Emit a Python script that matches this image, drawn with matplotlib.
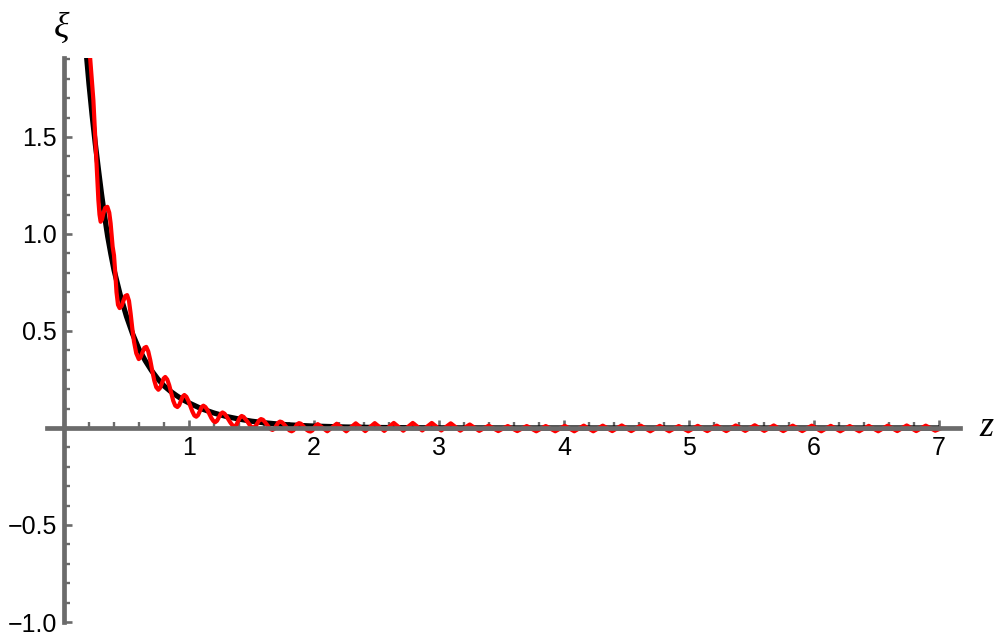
import numpy as np
import matplotlib
matplotlib.use('Agg')
import matplotlib.pyplot as plt
from matplotlib.ticker import MultipleLocator, FixedLocator

# black curve
z_black = [0.18, 0.20, 0.225, 0.25, 0.275, 0.30, 0.325, 0.35, 0.375, 0.40,
           0.45, 0.50, 0.55, 0.60, 0.65, 0.70, 0.75, 0.80, 0.85, 0.90,
           0.95, 1.00, 1.10, 1.20, 1.30, 1.40, 1.50, 1.60, 1.70, 1.80,
           1.90, 2.00, 2.25, 2.50, 2.75, 3.00, 3.50, 4.00, 5.00, 6.00, 7.00]
xi_black = [1.92, 1.774, 1.613, 1.467, 1.334, 1.206, 1.091, 0.986, 0.897, 0.815,
            0.685, 0.575, 0.483, 0.406, 0.347, 0.296, 0.253, 0.217, 0.190, 0.167,
            0.146, 0.129, 0.099, 0.077, 0.059, 0.046, 0.035, 0.027, 0.021, 0.016,
            0.0125, 0.0096, 0.005, 0.0025, 0.0013, 0.0007, 0.0002, 0.0, 0.0, 0.0, 0.0]

# red curve, head part (read point by point)
z_red_head = [0.210, 0.222, 0.235, 0.248, 0.261, 0.275, 0.284, 0.293, 0.304, 0.315,
              0.330, 0.347, 0.362, 0.373, 0.389, 0.400, 0.410, 0.420, 0.432, 0.445,
              0.460, 0.475, 0.490, 0.505, 0.520, 0.533, 0.546, 0.560, 0.578, 0.598,
              0.613, 0.628, 0.643, 0.658, 0.674, 0.690, 0.706, 0.722, 0.738, 0.755,
              0.769, 0.783, 0.797, 0.810, 0.826, 0.842, 0.858, 0.874, 0.890, 0.907,
              0.921, 0.935, 0.949, 0.963, 0.979, 0.995, 1.011, 1.027, 1.043, 1.058,
              1.072, 1.087, 1.101, 1.115, 1.131, 1.147, 1.163, 1.179, 1.195, 1.210,
              1.224, 1.239, 1.254, 1.268, 1.284, 1.300, 1.316, 1.332, 1.349, 1.365,
              1.379, 1.393, 1.407, 1.421, 1.437, 1.453, 1.469, 1.485, 1.500, 1.515,
              1.530, 1.545, 1.561, 1.576, 1.592, 1.607, 1.622, 1.638, 1.653, 1.668,
              1.683, 1.698, 1.713, 1.728, 1.743, 1.759, 1.774, 1.790, 1.805, 1.821,
              1.836, 1.850, 1.865, 1.880, 1.895, 1.910, 1.926, 1.941, 1.957, 1.972,
              1.987, 2.001, 2.016]
xi_red_head = [1.90, 1.80, 1.69, 1.52, 1.347, 1.175, 1.10, 1.063, 1.075, 1.107,
               1.135, 1.14, 1.11, 1.055, 0.935, 0.89, 0.80, 0.70, 0.635, 0.618,
               0.628, 0.655, 0.680, 0.685, 0.655, 0.59, 0.515, 0.445, 0.385, 0.355,
               0.365, 0.39, 0.413, 0.418, 0.395, 0.35, 0.295, 0.245, 0.21, 0.197,
               0.207, 0.23, 0.255, 0.263, 0.25, 0.22, 0.18, 0.14, 0.115, 0.108,
               0.117, 0.139, 0.162, 0.170, 0.161, 0.14, 0.113, 0.085, 0.064, 0.058,
               0.066, 0.087, 0.108, 0.115, 0.108, 0.093, 0.072, 0.051, 0.036, 0.030,
               0.037, 0.055, 0.073, 0.080, 0.074, 0.060, 0.044, 0.027, 0.013, 0.008,
               0.016, 0.035, 0.054, 0.062, 0.057, 0.044, 0.031, 0.016, 0.004, 0.000,
               0.007, 0.023, 0.039, 0.046, 0.042, 0.031, 0.018, 0.005, -0.006, -0.010,
               -0.004, 0.011, 0.027, 0.033, 0.030, 0.020, 0.008, -0.004, -0.013, -0.017,
               -0.012, 0.004, 0.019, 0.025, 0.022, 0.012, 0.001, -0.009, -0.016, -0.018,
               -0.013, 0.001, 0.014]

# red curve, tail: alternating peaks and troughs
z_red_tail = [2.030, 2.106, 2.182, 2.258, 2.334, 2.410, 2.486, 2.562, 2.638, 2.714,
              2.790, 2.866, 2.942, 3.018, 3.094, 3.170, 3.246, 3.322, 3.398, 3.474,
              3.550, 3.626, 3.702, 3.778, 3.854, 3.930, 4.006, 4.082, 4.158, 4.234,
              4.310, 4.386, 4.462, 4.538, 4.614, 4.690, 4.766, 4.842, 4.918, 4.994,
              5.070, 5.146, 5.222, 5.298, 5.374, 5.450, 5.526, 5.602, 5.678, 5.754,
              5.830, 5.906, 5.982, 6.058, 6.134, 6.210, 6.286, 6.362, 6.438, 6.514,
              6.590, 6.666, 6.742, 6.818, 6.894, 6.970, 7.000]
xi_red_tail = [0.020, -0.017, 0.022, -0.017, 0.024, -0.016, 0.025, -0.015, 0.026, -0.014,
               0.026, -0.013, 0.026, -0.013, 0.024, -0.014, 0.018, -0.015, 0.012, -0.016,
               0.010, -0.016, 0.010, -0.017, 0.010, -0.017, 0.011, -0.017, 0.012, -0.017,
               0.012, -0.016, 0.013, -0.016, 0.012, -0.017, 0.011, -0.017, 0.010, -0.017,
               0.011, -0.016, 0.012, -0.016, 0.013, -0.015, 0.014, -0.015, 0.013, -0.016,
               0.012, -0.016, 0.012, -0.017, 0.011, -0.017, 0.010, -0.017, 0.011, -0.017,
               0.012, -0.016, 0.013, -0.016, 0.012, -0.014, -0.006]

x_major = [1, 2, 3, 4, 5, 6, 7]
y_major = [-1.0, -0.5, 0.5, 1.0, 1.5]

axis_grey = '#6b6b6b'

fig = plt.figure(figsize=(9.97, 6.43), dpi=100)
ax = fig.add_axes([47/997, 21/643, 913/997, 564/643])
ax.set_xlim(-0.136, 7.168)
ax.set_ylim(-1.0, 1.907)

ax.plot(z_black, xi_black, color='black', lw=3.8, solid_capstyle='butt', zorder=2)
ax.plot(z_red_head + z_red_tail, xi_red_head + xi_red_tail, color='#ff0000',
        lw=3.0, solid_joinstyle='round', zorder=2.1)

for side in ['top', 'right']:
    ax.spines[side].set_visible(False)
ax.spines['left'].set_position(('data', 0))
ax.spines['bottom'].set_position(('data', 0))
for side in ['left', 'bottom']:
    ax.spines[side].set_color(axis_grey)
    ax.spines[side].set_linewidth(3.4)
    ax.spines[side].set_zorder(3)
ax.spines['left'].set_bounds(-1.0, 1.907)

ax.xaxis.set_major_locator(FixedLocator(x_major))
ax.xaxis.set_minor_locator(MultipleLocator(0.2))
ax.yaxis.set_major_locator(FixedLocator(y_major))
ax.yaxis.set_minor_locator(MultipleLocator(0.1))
ax.set_xticklabels([str(v) for v in x_major])
ax.set_yticklabels([('%.1f' % v).replace('-', '\u2212') for v in y_major])

ax.tick_params(which='both', direction='in', color=axis_grey, labelcolor='black',
               labelsize=18)
ax.tick_params(which='major', length=6, width=1.9)
ax.tick_params(which='minor', length=4.2, width=1.7)
ax.tick_params(axis='x', pad=6)
ax.tick_params(axis='y', pad=5)
for lab in ax.get_xticklabels() + ax.get_yticklabels():
    lab.set_fontfamily('Liberation Sans')

ax.text(-0.02, 2.06, '\u03be', fontsize=26, fontstyle='italic',
        fontfamily='Liberation Serif', ha='center', va='center', clip_on=False)
ax.text(7.38, 0.0, 'z', fontsize=26, fontstyle='italic',
        fontfamily='Liberation Serif', ha='center', va='center', clip_on=False)

fig.savefig('out.png', dpi=100)
